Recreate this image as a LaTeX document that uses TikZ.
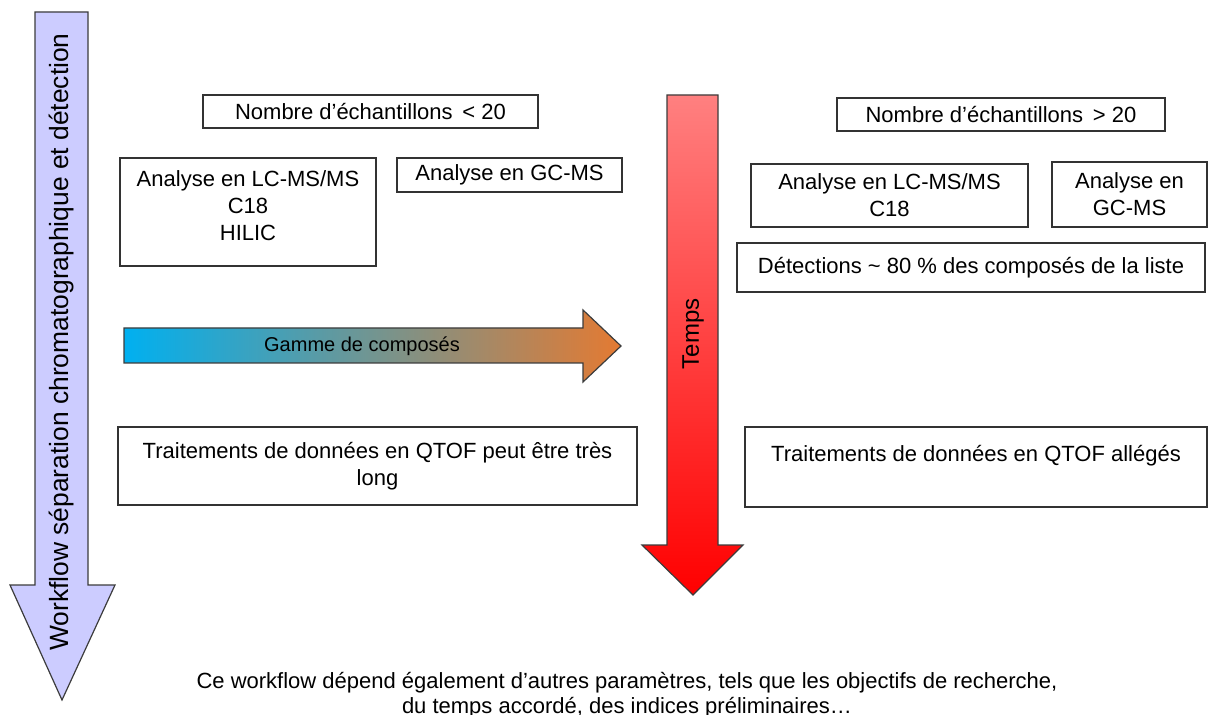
\documentclass[tikz,border=0pt]{standalone}
\usepackage{fontspec}
\setmainfont{Liberation Sans}
\usepackage{tikz}
\usetikzlibrary{positioning}
\definecolor{lav}{RGB}{204,204,255}
\definecolor{pinkred}{RGB}{255,128,128}
\definecolor{cyanb}{RGB}{0,176,240}
\definecolor{midbrown}{RGB}{140,112,88}
\definecolor{orng}{RGB}{228,122,50}
\definecolor{edge}{RGB}{60,60,60}

\begin{document}
\begin{tikzpicture}[x=0.5pt, y=-0.5pt, font=\fontsize{11}{13.5}\selectfont,
  b/.style={draw=black!80, line width=0.6pt, inner sep=0pt, align=center},
  shp/.style={draw=edge, line width=0.6pt, line join=miter}]
\clip (0,0) rectangle (1208,715);
% big arrows
\shadedraw[shp, fill=lav, shading=axis, top color=lav, bottom color=lav]
  (35,12) -- (88,12) -- (88,585) -- (115,585) -- (62,700) -- (10,585) -- (35,585) -- cycle;
\node[rotate=90, font=\fontsize{13.2}{15}\selectfont] (workflow) at (62,342)
  {Workflow séparation chromatographique et détection};
\shadedraw[shp, top color=pinkred, bottom color=red]
  (667,95) -- (718,95) -- (718,545) -- (743,545) -- (693,595) -- (642,545) -- (667,545) -- cycle;
\node[rotate=90, font=\fontsize{12}{14}\selectfont] (temps) at (693,334) {Temps};
\shadedraw[shp, left color=cyanb, middle color=midbrown, right color=orng]
  (124,328) -- (583,328) -- (583,310) -- (621,346) -- (583,382) -- (583,363) -- (124,363) -- cycle;
\node[font=\fontsize{10}{12}\selectfont] (gamme) at (362,346) {Gamme de composés};
% left column
\node[b, minimum width=167.5pt, minimum height=16.5pt] (nbA) at (370.5,111.5) {Nombre d’échantillons \,< 20};
\node[b, minimum width=128pt, minimum height=54pt] (lcA) at (248,212) {Analyse en LC-MS/MS\\C18\\HILIC\\[-7.5pt]};
\node[b, minimum width=112.5pt, minimum height=17pt] (gcA) at (509.5,175) {Analyse en GC-MS};
\node[b, minimum width=259.5pt, minimum height=39pt] (trA) at (377.5,466) {Traitements de données en QTOF peut être très\\long};
% right column
\node[b, minimum width=164pt, minimum height=16.5pt] (nbB) at (1001,114.5) {Nombre d’échantillons \,> 20};
\node[b, minimum width=138.5pt, minimum height=31.5pt] (lcB) at (889.5,195.5) {Analyse en LC-MS/MS\\C18};
\node[b, minimum width=77.5pt, minimum height=32.5pt] (gcB) at (1129.5,194.5) {Analyse en\\GC-MS};
\node[b, minimum width=234pt, minimum height=24.5pt] (det) at (971,267.5) {Détections \textasciitilde{} 80 \% des composés de la liste};
\node[b, minimum width=231pt, minimum height=40pt] (trB) at (976,467) {Traitements de données en QTOF allégés\\\mbox{}};
% note
\node[align=center, font=\fontsize{11}{12.5}\selectfont] (note) at (627,695)
  {Ce workflow dépend également d’autres paramètres, tels que les objectifs de recherche,\\du temps accordé, des indices préliminaires…};
\end{tikzpicture}
\end{document}
